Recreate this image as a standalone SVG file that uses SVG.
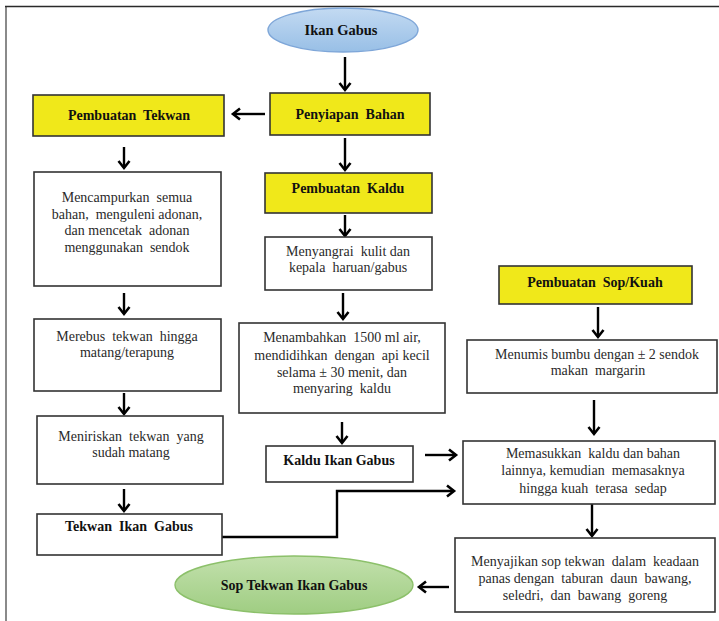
<svg xmlns="http://www.w3.org/2000/svg" width="719" height="621" viewBox="0 0 719 621">
  <defs>
    <linearGradient id="gradBlue" x1="0" y1="0" x2="0" y2="1">
      <stop offset="0" stop-color="#c3daf2"/>
      <stop offset="1" stop-color="#98bfe6"/>
    </linearGradient>
    <linearGradient id="gradGreen" x1="0" y1="0" x2="0" y2="1">
      <stop offset="0" stop-color="#c2e0ac"/>
      <stop offset="1" stop-color="#9fcd82"/>
    </linearGradient>
    <marker id="head" markerUnits="userSpaceOnUse" markerWidth="14" markerHeight="14" viewBox="0 0 14 14" refX="11" refY="7" orient="auto">
      <path d="M4,1.5 L11,7 L4,12.5" fill="none" stroke="#000" stroke-width="2.6" stroke-linejoin="miter"/>
    </marker>
  </defs>
  <style>
    text { font-family: "Liberation Serif", "Times New Roman", serif; font-size: 14px; fill: #2a2a2a; text-anchor: middle; white-space: pre; }
    .b { font-weight: bold; fill: #111; }
    .box { fill: #fff; stroke: #333; stroke-width: 1.6; }
    .yel { fill: #f0e81a; stroke: #333; stroke-width: 1.6; }
    .arr { fill: none; stroke: #000; stroke-width: 2.4; marker-end: url(#head); }
  </style>

  <rect x="0" y="0" width="719" height="621" fill="#fff"/>
  <!-- page frame -->
  <line x1="6" y1="6" x2="6" y2="621" stroke="#8a8a8a" stroke-width="2"/>
  <line x1="5" y1="6.5" x2="719" y2="6.5" stroke="#2a2a2a" stroke-width="1.5"/>

  <g id="connectors">
    <line class="arr" x1="345" y1="57" x2="345" y2="90"/>
    <line class="arr" x1="265" y1="114" x2="233" y2="114"/>
    <line class="arr" x1="345" y1="138" x2="345" y2="170"/>
    <line class="arr" x1="124" y1="147" x2="124" y2="168"/>
    <line class="arr" x1="124" y1="293" x2="124" y2="314"/>
    <line class="arr" x1="124" y1="393" x2="124" y2="414"/>
    <line class="arr" x1="124" y1="489" x2="124" y2="511"/>
    <line class="arr" x1="345" y1="215" x2="345" y2="236"/>
    <line class="arr" x1="343" y1="293" x2="343" y2="319"/>
    <line class="arr" x1="342" y1="422" x2="342" y2="443"/>
    <line class="arr" x1="425" y1="455" x2="456" y2="455"/>
    <path class="arr" d="M222,537 H337 V491 H454"/>
    <line class="arr" x1="598" y1="307" x2="598" y2="337"/>
    <line class="arr" x1="594" y1="400" x2="594" y2="434"/>
    <line class="arr" x1="592" y1="504" x2="592" y2="536"/>
    <line class="arr" x1="449" y1="587" x2="419" y2="587"/>
  </g>

  <g id="ikan-gabus">
    <ellipse cx="343" cy="30" rx="75" ry="22" fill="url(#gradBlue)" stroke="#7ea6d8" stroke-width="1.4"/>
    <text class="b" x="341" y="35" style="font-size:14.5px">Ikan Gabus</text>
  </g>

  <g id="penyiapan-bahan">
    <rect class="yel" x="270" y="93" width="160" height="42"/>
    <text class="b" x="350" y="119">Penyiapan  Bahan</text>
  </g>

  <g id="pembuatan-tekwan">
    <rect class="yel" x="33" y="95" width="191" height="41"/>
    <text class="b" x="129" y="120">Pembuatan  Tekwan</text>
  </g>

  <g id="mencampurkan">
    <rect class="box" x="34" y="172" width="187" height="114"/>
    <text x="127" y="201.5">Mencampurkan  semua</text>
    <text x="127" y="218.5">bahan,  menguleni adonan,</text>
    <text x="127" y="234.5">dan mencetak  adonan</text>
    <text x="127" y="251.5">menggunakan  sendok</text>
  </g>

  <g id="merebus">
    <rect class="box" x="34" y="319" width="187" height="72"/>
    <text x="127" y="341">Merebus  tekwan  hingga</text>
    <text x="127" y="357">matang/terapung</text>
  </g>

  <g id="meniriskan">
    <rect class="box" x="37" y="416" width="186" height="68"/>
    <text x="131" y="441">Meniriskan  tekwan  yang</text>
    <text x="131" y="457">sudah matang</text>
  </g>

  <g id="tekwan-ikan-gabus">
    <rect class="box" x="37" y="514" width="185" height="41"/>
    <text class="b" x="129" y="531">Tekwan  Ikan  Gabus</text>
  </g>

  <g id="pembuatan-kaldu">
    <rect class="yel" x="265" y="173" width="167" height="40"/>
    <text class="b" x="348" y="193">Pembuatan  Kaldu</text>
  </g>

  <g id="menyangrai">
    <rect class="box" x="265" y="237" width="167" height="53"/>
    <text x="348" y="255.5">Menyangrai  kulit dan</text>
    <text x="348" y="272">kepala  haruan/gabus</text>
  </g>

  <g id="menambahkan">
    <rect class="box" x="239" y="323" width="206" height="90"/>
    <text x="342" y="341.5">Menambahkan  1500 ml air,</text>
    <text x="342" y="359.5">mendidihkan  dengan  api kecil</text>
    <text x="342" y="376.5">selama ± 30 menit, dan</text>
    <text x="342" y="392.5">menyaring  kaldu</text>
  </g>

  <g id="kaldu-ikan-gabus">
    <rect class="box" x="266" y="446" width="147" height="36"/>
    <text class="b" x="339" y="464.5">Kaldu Ikan Gabus</text>
  </g>

  <g id="pembuatan-sop">
    <rect class="yel" x="499" y="266" width="193" height="38"/>
    <text class="b" x="595" y="287">Pembuatan  Sop/Kuah</text>
  </g>

  <g id="menumis">
    <rect class="box" x="467" y="340" width="250" height="53"/>
    <text x="597" y="358.5">Menumis bumbu dengan ± 2 sendok</text>
    <text x="598" y="374.5">makan  margarin</text>
  </g>

  <g id="memasukkan">
    <rect class="box" x="463" y="441" width="252" height="63"/>
    <text x="593" y="457.5">Memasukkan  kaldu dan bahan</text>
    <text x="593" y="474.5">lainnya, kemudian  memasaknya</text>
    <text x="593" y="492.5">hingga kuah  terasa  sedap</text>
  </g>

  <g id="menyajikan">
    <rect class="box" x="455" y="538" width="260" height="74"/>
    <text x="585" y="566">Menyajikan sop tekwan  dalam  keadaan</text>
    <text x="585" y="583">panas dengan  taburan  daun  bawang,</text>
    <text x="585" y="600">seledri,  dan  bawang  goreng</text>
  </g>

  <g id="sop-tekwan-ikan-gabus">
    <ellipse cx="294" cy="585" rx="119" ry="29" fill="url(#gradGreen)" stroke="#8cc06a" stroke-width="1.4"/>
    <text class="b" x="294" y="589.5">Sop Tekwan Ikan Gabus</text>
  </g>
</svg>
